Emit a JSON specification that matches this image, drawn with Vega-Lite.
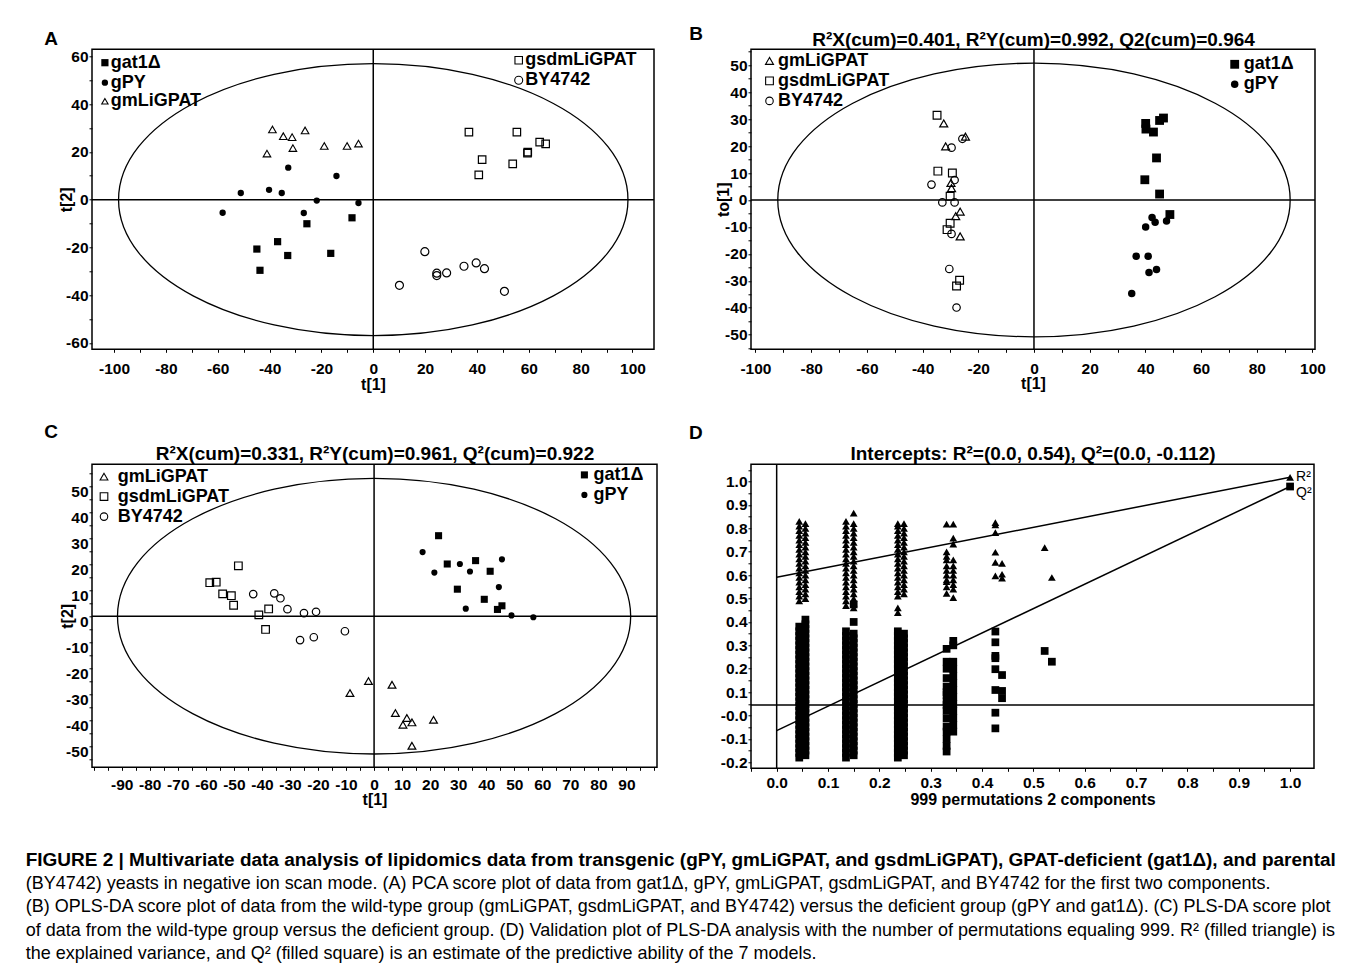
{
"$schema":"https://vega.github.io/schema/vega-lite/v6.json",
"background":"white",
"padding":{"left":25,"top":24.3,"right":10,"bottom":8},
"columns":2,
"spacing":{"row":115,"column":94},
"bounds":"flush",
"align":"none",
"title":{"text":["FIGURE 2 | Multivariate data analysis of lipidomics data from transgenic (gPY, gmLiGPAT, and gsdmLiGPAT), GPAT-deficient (gat1Δ), and parental"],
"subtitle":["(BY4742) yeasts in negative ion scan mode. (A) PCA score plot of data from gat1Δ, gPY, gmLiGPAT, gsdmLiGPAT, and BY4742 for the first two components.","(B) OPLS-DA score plot of data from the wild-type group (gmLiGPAT, gsdmLiGPAT, and BY4742) versus the deficient group (gPY and gat1Δ). (C) PLS-DA score plot","of data from the wild-type group versus the deficient group. (D) Validation plot of PLS-DA analysis with the number of permutations equaling 999. R² (filled triangle) is","the explained variance, and Q² (filled square) is an estimate of the predictive ability of the 7 models."],
"orient":"bottom","anchor":"start","frame":"group","dx":-66.3,"offset":42.4,"font":"Liberation Sans","fontSize":19,"fontWeight":"bold","color":"black","lineHeight":23.5,"subtitleFont":"Liberation Sans","subtitleFontSize":18,"subtitleFontWeight":"normal","subtitleColor":"black","subtitleLineHeight":23.5,"subtitlePadding":5},
"datasets":{
"origin":[{"x":0,"y":0}],
"Dref":[{"x":0,"y":0.0452}],
"A":[
{"g":"gat1Δ","x":-25.6,"y":-10.1},{"g":"gat1Δ","x":-8.2,"y":-7.6},{"g":"gat1Δ","x":-36.9,"y":-17.6},{"g":"gat1Δ","x":-44.9,"y":-20.7},{"g":"gat1Δ","x":-16.4,"y":-22.5},{"g":"gat1Δ","x":-33.0,"y":-23.4},{"g":"gat1Δ","x":-43.7,"y":-29.6},
{"g":"gPY","x":-32.8,"y":13.4},{"g":"gPY","x":-14.2,"y":9.9},{"g":"gPY","x":-51.1,"y":2.8},{"g":"gPY","x":-40.2,"y":4.1},{"g":"gPY","x":-35.3,"y":2.8},{"g":"gPY","x":-21.8,"y":-0.4},{"g":"gPY","x":-5.7,"y":-1.4},{"g":"gPY","x":-58.1,"y":-5.5},{"g":"gPY","x":-26.8,"y":-5.6},
{"g":"gmLiGPAT","x":-38.9,"y":29.4},{"g":"gmLiGPAT","x":-34.7,"y":26.6},{"g":"gmLiGPAT","x":-31.3,"y":26.2},{"g":"gmLiGPAT","x":-26.3,"y":29.0},{"g":"gmLiGPAT","x":-41.0,"y":19.3},{"g":"gmLiGPAT","x":-31.0,"y":21.6},{"g":"gmLiGPAT","x":-18.9,"y":22.5},{"g":"gmLiGPAT","x":-10.1,"y":22.5},{"g":"gmLiGPAT","x":-5.7,"y":23.5},
{"g":"gsdmLiGPAT","x":36.9,"y":28.3},{"g":"gsdmLiGPAT","x":55.4,"y":28.3},{"g":"gsdmLiGPAT","x":64.2,"y":24.1},{"g":"gsdmLiGPAT","x":66.5,"y":23.4},{"g":"gsdmLiGPAT","x":59.5,"y":19.5},{"g":"gsdmLiGPAT","x":59.6,"y":19.9},{"g":"gsdmLiGPAT","x":42.0,"y":16.8},{"g":"gsdmLiGPAT","x":53.8,"y":15.0},{"g":"gsdmLiGPAT","x":40.7,"y":10.4},
{"g":"BY4742","x":19.9,"y":-21.8},{"g":"BY4742","x":24.5,"y":-30.8},{"g":"BY4742","x":24.5,"y":-31.8},{"g":"BY4742","x":28.3,"y":-30.7},{"g":"BY4742","x":35.0,"y":-27.9},{"g":"BY4742","x":39.7,"y":-26.5},{"g":"BY4742","x":42.9,"y":-28.9},{"g":"BY4742","x":10.1,"y":-35.9},{"g":"BY4742","x":50.6,"y":-38.4}],
"B":[
{"g":"gsdmLiGPAT","x":-34.8,"y":31.4},{"g":"gsdmLiGPAT","x":-34.5,"y":10.7},{"g":"gsdmLiGPAT","x":-29.3,"y":10.0},{"g":"gsdmLiGPAT","x":-30.1,"y":1.4},{"g":"gsdmLiGPAT","x":-30.1,"y":-8.6},{"g":"gsdmLiGPAT","x":-31.2,"y":-11.0},{"g":"gsdmLiGPAT","x":-26.7,"y":-29.8},{"g":"gsdmLiGPAT","x":-27.8,"y":-31.9},
{"g":"gmLiGPAT","x":-32.4,"y":28.4},{"g":"gmLiGPAT","x":-24.6,"y":23.5},{"g":"gmLiGPAT","x":-31.7,"y":19.9},{"g":"gmLiGPAT","x":-29.6,"y":4.4},{"g":"gmLiGPAT","x":-26.5,"y":-4.3},{"g":"gmLiGPAT","x":-28.1,"y":-6.0},{"g":"gmLiGPAT","x":-26.5,"y":-13.5},{"g":"gmLiGPAT","x":-29.8,"y":6.3},
{"g":"BY4742","x":-29.6,"y":19.4},{"g":"BY4742","x":-25.7,"y":22.7},{"g":"BY4742","x":-36.8,"y":5.7},{"g":"BY4742","x":-28.5,"y":7.4},{"g":"BY4742","x":-32.9,"y":-0.9},{"g":"BY4742","x":-28.5,"y":-0.9},{"g":"BY4742","x":-29.6,"y":-12.6},{"g":"BY4742","x":-30.4,"y":-25.6},{"g":"BY4742","x":-27.8,"y":-39.9},
{"g":"gat1Δ","x":40.1,"y":28.4},{"g":"gat1Δ","x":40.2,"y":26.3},{"g":"gat1Δ","x":42.9,"y":25.2},{"g":"gat1Δ","x":45.1,"y":29.5},{"g":"gat1Δ","x":46.5,"y":30.4},{"g":"gat1Δ","x":44.0,"y":15.6},{"g":"gat1Δ","x":39.8,"y":7.5},{"g":"gat1Δ","x":45.1,"y":2.2},{"g":"gat1Δ","x":48.8,"y":-5.4},
{"g":"gPY","x":42.4,"y":-6.5},{"g":"gPY","x":43.5,"y":-8.3},{"g":"gPY","x":47.6,"y":-7.8},{"g":"gPY","x":40.1,"y":-10.0},{"g":"gPY","x":36.7,"y":-20.9},{"g":"gPY","x":41.0,"y":-20.9},{"g":"gPY","x":41.3,"y":-26.9},{"g":"gPY","x":44.0,"y":-25.8},{"g":"gPY","x":35.1,"y":-34.7}],
"C":[
{"g":"gsdmLiGPAT","x":-48.4,"y":19.4},{"g":"gsdmLiGPAT","x":-58.6,"y":12.9},{"g":"gsdmLiGPAT","x":-56.3,"y":13.1},{"g":"gsdmLiGPAT","x":-54.0,"y":8.6},{"g":"gsdmLiGPAT","x":-50.9,"y":7.9},{"g":"gsdmLiGPAT","x":-50.1,"y":4.2},{"g":"gsdmLiGPAT","x":-41.1,"y":0.5},{"g":"gsdmLiGPAT","x":-37.6,"y":2.8},{"g":"gsdmLiGPAT","x":-38.7,"y":-5.1},
{"g":"BY4742","x":-43.1,"y":8.5},{"g":"BY4742","x":-35.6,"y":8.8},{"g":"BY4742","x":-33.4,"y":6.9},{"g":"BY4742","x":-30.9,"y":2.7},{"g":"BY4742","x":-25.0,"y":1.2},{"g":"BY4742","x":-20.7,"y":1.7},{"g":"BY4742","x":-10.4,"y":-5.8},{"g":"BY4742","x":-26.4,"y":-9.2},{"g":"BY4742","x":-21.5,"y":-8.1},
{"g":"gmLiGPAT","x":-2.0,"y":-25.0},{"g":"gmLiGPAT","x":-8.6,"y":-29.6},{"g":"gmLiGPAT","x":6.4,"y":-26.4},{"g":"gmLiGPAT","x":7.6,"y":-37.3},{"g":"gmLiGPAT","x":11.7,"y":-39.2},{"g":"gmLiGPAT","x":13.5,"y":-40.9},{"g":"gmLiGPAT","x":10.3,"y":-41.8},{"g":"gmLiGPAT","x":21.2,"y":-39.9},{"g":"gmLiGPAT","x":13.5,"y":-49.9},
{"g":"gat1Δ","x":23.0,"y":31.0},{"g":"gat1Δ","x":26.1,"y":20.1},{"g":"gat1Δ","x":36.2,"y":21.4},{"g":"gat1Δ","x":41.4,"y":17.3},{"g":"gat1Δ","x":29.7,"y":10.4},{"g":"gat1Δ","x":39.3,"y":6.5},{"g":"gat1Δ","x":45.6,"y":4.0},{"g":"gat1Δ","x":44.0,"y":2.6},
{"g":"gPY","x":17.3,"y":24.7},{"g":"gPY","x":21.5,"y":16.8},{"g":"gPY","x":30.6,"y":20.1},{"g":"gPY","x":34.2,"y":17.2},{"g":"gPY","x":45.6,"y":21.9},{"g":"gPY","x":44.5,"y":11.2},{"g":"gPY","x":32.7,"y":2.9},{"g":"gPY","x":49.0,"y":0.3},{"g":"gPY","x":56.8,"y":-0.4}],
"D":[
{"s":"R²","x":0.044,"y":[0.49,0.51,0.53,0.55,0.57,0.59,0.61,0.63,0.65,0.67,0.69,0.71,0.73,0.75,0.77,0.79,0.81,0.83]},
{"s":"R²","x":0.056,"y":[0.5,0.52,0.54,0.56,0.58,0.6,0.62,0.64,0.66,0.68,0.7,0.72,0.74,0.76,0.78,0.8,0.82]},
{"s":"R²","x":0.135,"y":[0.47,0.49,0.51,0.53,0.55,0.57,0.59,0.61,0.63,0.65,0.67,0.69,0.71,0.73,0.75,0.77,0.79,0.81,0.83]},
{"s":"R²","x":0.15,"y":[0.46,0.48,0.5,0.52,0.54,0.56,0.58,0.6,0.62,0.64,0.66,0.68,0.7,0.72,0.74,0.76,0.78,0.8,0.82,0.865]},
{"s":"R²","x":0.236,"y":[0.44,0.46,0.51,0.53,0.55,0.57,0.59,0.61,0.63,0.65,0.67,0.69,0.71,0.73,0.75,0.77,0.79,0.81,0.82]},
{"s":"R²","x":0.248,"y":[0.52,0.54,0.56,0.58,0.6,0.62,0.64,0.66,0.68,0.7,0.72,0.74,0.76,0.78,0.8,0.82]},
{"s":"R²","x":0.331,"y":[0.818,0.7,0.68,0.665,0.64,0.62,0.6,0.58,0.572,0.55,0.522]},
{"s":"R²","x":0.344,"y":[0.818,0.758,0.733,0.665,0.64,0.62,0.6,0.58,0.56,0.54,0.504]},
{"s":"R²","x":0.426,"y":[0.825,0.815,0.782,0.698,0.655,0.597]},
{"s":"R²","x":0.439,"y":[0.65,0.604,0.587]},
{"s":"R²","x":0.522,"y":[0.718]},
{"s":"R²","x":0.536,"y":[0.59]},
{"s":"R²","x":1.0,"y":[1.0185]},
{"s":"Q²","x":0.044,"y":[-0.18,-0.16,-0.14,-0.12,-0.1,-0.08,-0.06,-0.04,-0.02,0,0.02,0.04,0.06,0.08,0.1,0.12,0.14,0.16,0.18,0.2,0.22,0.24,0.26,0.28,0.3,0.32,0.34,0.36,0.38]},
{"s":"Q²","x":0.056,"y":[-0.17,-0.15,-0.13,-0.11,-0.09,-0.07,-0.05,-0.03,-0.01,0.01,0.03,0.05,0.07,0.09,0.11,0.13,0.15,0.17,0.19,0.21,0.23,0.25,0.27,0.29,0.31,0.33,0.35,0.37,0.39,0.41]},
{"s":"Q²","x":0.135,"y":[-0.18,-0.16,-0.14,-0.12,-0.1,-0.08,-0.06,-0.04,-0.02,0,0.02,0.04,0.06,0.08,0.1,0.12,0.14,0.16,0.18,0.2,0.22,0.24,0.26,0.28,0.3,0.32,0.34,0.36]},
{"s":"Q²","x":0.15,"y":[-0.17,-0.15,-0.13,-0.11,-0.09,-0.07,-0.05,-0.03,-0.01,0.01,0.03,0.05,0.07,0.09,0.11,0.13,0.15,0.17,0.19,0.21,0.23,0.25,0.27,0.29,0.31,0.33,0.35,0.4,0.475]},
{"s":"Q²","x":0.236,"y":[-0.18,-0.16,-0.14,-0.12,-0.1,-0.08,-0.06,-0.04,-0.02,0,0.02,0.04,0.06,0.08,0.1,0.12,0.14,0.16,0.18,0.2,0.22,0.24,0.26,0.28,0.3,0.32,0.34,0.36]},
{"s":"Q²","x":0.248,"y":[-0.17,-0.15,-0.13,-0.11,-0.09,-0.07,-0.05,-0.03,-0.01,0.01,0.03,0.05,0.07,0.09,0.11,0.13,0.15,0.17,0.19,0.21,0.23,0.25,0.27,0.29,0.31,0.33,0.35]},
{"s":"Q²","x":0.331,"y":[0.285,0.23,0.2,0.16,0.124,0.1,0.088,0.06,0.045,0.02,-0.012,-0.047,-0.069,-0.1,-0.13,-0.154]},
{"s":"Q²","x":0.344,"y":[0.319,0.3,0.23,0.2,0.17,0.14,0.11,0.08,0.05,0.02,-0.01,-0.04,-0.069]},
{"s":"Q²","x":0.426,"y":[0.359,0.313,0.255,0.245,0.198,0.109,0.012,-0.055]},
{"s":"Q²","x":0.439,"y":[0.173,0.105,0.074]},
{"s":"Q²","x":0.522,"y":[0.276]},
{"s":"Q²","x":0.536,"y":[0.23]},
{"s":"Q²","x":1.0,"y":[0.979]}],
"Dl":[{"s":"R²","x":0,"y":0.591},{"s":"R²","x":1,"y":1.0185},{"s":"Q²","x":0,"y":-0.0646},{"s":"Q²","x":1,"y":0.979}],
"Dt":[{"t":"R²","x":1,"y":1.0185},{"t":"Q²","x":1,"y":0.979}]
},
"concat":[
{
"width":562,"height":300,
"title":{"text":"A","anchor":"start","frame":"group","dx":-47.8,"offset":-15.2,"baseline":"alphabetic","fontSize":19},
"layer":[
{"data":{"name":"origin"},"mark":{"type":"rule","color":"black","strokeWidth":1.5},"encoding":{"x":{"field":"x","type":"quantitative","scale":{"domain":[-108.5,108.3],"nice":false,"zero":false},"axis":null}}},
{"data":{"name":"origin"},"mark":{"type":"rule","color":"black","strokeWidth":1.5},"encoding":{"y":{"field":"y","type":"quantitative","scale":{"domain":[-62.7,63],"nice":false,"zero":false},"axis":null}}},
{"data":{"name":"origin"},"mark":{"type":"point","shape":"M-1,0A1,0.534,0,1,1,1,0A1,0.534,0,1,1,-1,0Z","size":259488,"filled":false,"stroke":"black","strokeWidth":1.3,"opacity":1},
 "encoding":{"x":{"field":"x","type":"quantitative","scale":{"domain":[-108.5,108.3],"nice":false,"zero":false},"axis":null},"y":{"field":"y","type":"quantitative","scale":{"domain":[-62.7,63],"nice":false,"zero":false},"axis":null}}},
{"data":{"name":"A"},"transform":[{"filter":{"field":"g","oneOf":["gat1Δ","gPY"]}}],
 "mark":{"type":"point","filled":true,"color":"black","opacity":1},
 "encoding":{
  "x":{"field":"x","type":"quantitative","scale":{"domain":[-108.5,108.3],"nice":false,"zero":false},"axis":{"title":"t[1]","values":[-100,-90,-80,-70,-60,-50,-40,-30,-20,-10,0,10,20,30,40,50,60,70,80,90,100],"labelExpr":"datum.value % 20 == 0 ? toString(datum.value) : ''","labelPadding":16,"titleY":35.3,"titleBaseline":"middle"}},
  "y":{"field":"y","type":"quantitative","scale":{"domain":[-62.7,63],"nice":false,"zero":false},"axis":{"title":"t[2]","values":[-60,-50,-40,-30,-20,-10,0,10,20,30,40,50,60],"labelExpr":"datum.value % 20 == 0 ? toString(datum.value) : ''","titleX":-25.8,"titleBaseline":"middle"}},
  "shape":{"field":"g","type":"nominal","scale":{"domain":["gat1Δ","gPY"],"range":["square","circle"]},"legend":{"title":null,"orient":"none","legendX":3.9,"legendY":4.4,"labelOffset":-3.1}},
  "size":{"field":"g","type":"nominal","scale":{"domain":["gat1Δ","gPY"],"range":[52,40]},"legend":{"title":null,"orient":"none","legendX":3.9,"legendY":4.4,"labelOffset":-3.1}}}},
{"data":{"name":"A"},"transform":[{"filter":{"field":"g","oneOf":["gmLiGPAT"]}}],
 "mark":{"type":"point","filled":false,"color":"black","strokeWidth":1.1,"opacity":1,"size":58},
 "encoding":{
  "x":{"field":"x","type":"quantitative","scale":{"domain":[-108.5,108.3],"nice":false,"zero":false},"axis":null},
  "y":{"field":"y","type":"quantitative","scale":{"domain":[-62.7,63],"nice":false,"zero":false},"axis":null},
  "shape":{"field":"g","type":"nominal","scale":{"domain":["gmLiGPAT"],"range":["triangle-up"]},"legend":{"title":null,"orient":"none","legendX":3.9,"legendY":43,"labelOffset":-3.1,"symbolSize":40}}}},
{"data":{"name":"A"},"transform":[{"filter":{"field":"g","oneOf":["gsdmLiGPAT","BY4742"]}}],
 "mark":{"type":"point","filled":false,"color":"black","strokeWidth":1.2,"opacity":1},
 "encoding":{
  "x":{"field":"x","type":"quantitative","scale":{"domain":[-108.5,108.3],"nice":false,"zero":false},"axis":null},
  "y":{"field":"y","type":"quantitative","scale":{"domain":[-62.7,63],"nice":false,"zero":false},"axis":null},
  "shape":{"field":"g","type":"nominal","scale":{"domain":["gsdmLiGPAT","BY4742"],"range":["square","circle"]},"legend":{"title":null,"orient":"none","legendX":417.7,"legendY":2,"labelOffset":-2.5}},
  "size":{"field":"g","type":"nominal","scale":{"domain":["gsdmLiGPAT","BY4742"],"range":[56,64]},"legend":{"title":null,"orient":"none","legendX":417.7,"legendY":2,"labelOffset":-2.5}}}}
],
"resolve":{"scale":{"shape":"independent","size":"independent"},"legend":{"shape":"independent","size":"independent"},"axis":{"x":"independent","y":"independent"}}
},
{
"width":564,"height":300,
"title":{"text":"B","anchor":"start","frame":"group","dx":-61.8,"offset":-28.5,"baseline":"alphabetic","fontSize":19},
"layer":[
{"data":{"name":"origin"},"mark":{"type":"rule","color":"black","strokeWidth":1.5},"encoding":{"x":{"field":"x","type":"quantitative","scale":{"domain":[-101.6,100.9],"nice":false,"zero":false},"axis":{"orient":"top","title":"R²X(cum)=0.401, R²Y(cum)=0.992, Q2(cum)=0.964","labels":false,"ticks":false,"domain":false,"titleFontSize":19,"titleY":-3.5,"titleBaseline":"alphabetic"}}}},
{"data":{"name":"origin"},"mark":{"type":"rule","color":"black","strokeWidth":1.5},"encoding":{"y":{"field":"y","type":"quantitative","scale":{"domain":[-55.4,55.9],"nice":false,"zero":false},"axis":null}}},
{"data":{"name":"origin"},"mark":{"type":"point","shape":"M-1,0A1,0.534,0,1,1,1,0A1,0.534,0,1,1,-1,0Z","size":262554,"filled":false,"stroke":"black","strokeWidth":1.3,"opacity":1},
 "encoding":{"x":{"field":"x","type":"quantitative","scale":{"domain":[-101.6,100.9],"nice":false,"zero":false},"axis":null},"y":{"field":"y","type":"quantitative","scale":{"domain":[-55.4,55.9],"nice":false,"zero":false},"axis":null}}},
{"data":{"name":"B"},"transform":[{"filter":{"field":"g","oneOf":["gmLiGPAT","gsdmLiGPAT","BY4742"]}}],
 "mark":{"type":"point","filled":false,"color":"black","strokeWidth":1.2,"opacity":1},
 "encoding":{
  "x":{"field":"x","type":"quantitative","scale":{"domain":[-101.6,100.9],"nice":false,"zero":false},"axis":{"title":"t[1]","values":[-100,-90,-80,-70,-60,-50,-40,-30,-20,-10,0,10,20,30,40,50,60,70,80,90,100],"labelExpr":"datum.value % 20 == 0 ? toString(datum.value) : ''","labelPadding":16.4,"titleY":34.4,"titleBaseline":"middle"}},
  "y":{"field":"y","type":"quantitative","scale":{"domain":[-55.4,55.9],"nice":false,"zero":false},"axis":{"title":"to[1]","values":[-55,-50,-45,-40,-35,-30,-25,-20,-15,-10,-5,0,5,10,15,20,25,30,35,40,45,50,55],"labelExpr":"datum.value % 10 == 0 ? toString(datum.value) : ''","titleX":-27.3,"titleBaseline":"middle"}},
  "shape":{"field":"g","type":"nominal","scale":{"domain":["gmLiGPAT","gsdmLiGPAT","BY4742"],"range":["triangle-up","square","circle"]},"legend":{"title":null,"orient":"none","legendX":9.5,"legendY":2.6,"labelOffset":-0.6}},
  "size":{"field":"g","type":"nominal","scale":{"domain":["gmLiGPAT","gsdmLiGPAT","BY4742"],"range":[64,56,64]},"legend":{"title":null,"orient":"none","legendX":9.5,"legendY":2.6,"labelOffset":-0.6}}}},
{"data":{"name":"B"},"transform":[{"filter":{"field":"g","oneOf":["gat1Δ","gPY"]}}],
 "mark":{"type":"point","filled":true,"color":"black","opacity":1},
 "encoding":{
  "x":{"field":"x","type":"quantitative","scale":{"domain":[-101.6,100.9],"nice":false,"zero":false},"axis":null},
  "y":{"field":"y","type":"quantitative","scale":{"domain":[-55.4,55.9],"nice":false,"zero":false},"axis":null},
  "shape":{"field":"g","type":"nominal","scale":{"domain":["gat1Δ","gPY"],"range":["square","circle"]},"legend":{"title":null,"orient":"none","legendX":474.7,"legendY":6,"labelOffset":0.1}},
  "size":{"field":"g","type":"nominal","scale":{"domain":["gat1Δ","gPY"],"range":[78,56]},"legend":{"title":null,"orient":"none","legendX":474.7,"legendY":6,"labelOffset":0.1}}}}
],
"resolve":{"scale":{"shape":"independent","size":"independent"},"legend":{"shape":"independent","size":"independent"},"axis":{"x":"independent","y":"independent"}}
},
{
"width":565,"height":303,
"title":{"text":"C","anchor":"start","frame":"group","dx":-47.8,"offset":-12.6,"baseline":"alphabetic","fontSize":19},
"layer":[
{"data":{"name":"origin"},"mark":{"type":"rule","color":"black","strokeWidth":1.5},"encoding":{"x":{"field":"x","type":"quantitative","scale":{"domain":[-100.6,100.9],"nice":false,"zero":false},"axis":{"orient":"top","title":"R²X(cum)=0.331, R²Y(cum)=0.961, Q²(cum)=0.922","labels":false,"ticks":false,"domain":false,"titleFontSize":19,"titleY":-4.5,"titleBaseline":"alphabetic"}}}},
{"data":{"name":"origin"},"mark":{"type":"rule","color":"black","strokeWidth":1.5},"encoding":{"y":{"field":"y","type":"quantitative","scale":{"domain":[-58.2,58.5],"nice":false,"zero":false},"axis":null}}},
{"data":{"name":"origin"},"mark":{"type":"point","shape":"M-1,0A1,0.537,0,1,1,1,0A1,0.537,0,1,1,-1,0Z","size":263374,"filled":false,"stroke":"black","strokeWidth":1.3,"opacity":1},
 "encoding":{"x":{"field":"x","type":"quantitative","scale":{"domain":[-100.6,100.9],"nice":false,"zero":false},"axis":null},"y":{"field":"y","type":"quantitative","scale":{"domain":[-58.2,58.5],"nice":false,"zero":false},"axis":null}}},
{"data":{"name":"C"},"transform":[{"filter":{"field":"g","oneOf":["gmLiGPAT","gsdmLiGPAT","BY4742"]}}],
 "mark":{"type":"point","filled":false,"color":"black","strokeWidth":1.2,"opacity":1},
 "encoding":{
  "x":{"field":"x","type":"quantitative","scale":{"domain":[-100.6,100.9],"nice":false,"zero":false},"axis":{"title":"t[1]","values":[-100,-95,-90,-85,-80,-75,-70,-65,-60,-55,-50,-45,-40,-35,-30,-25,-20,-15,-10,-5,0,5,10,15,20,25,30,35,40,45,50,55,60,65,70,75,80,85,90,95,100],"labelExpr":"datum.value % 10 == 0 && abs(datum.value) <= 90 ? toString(datum.value) : ''","labelPadding":14.3,"titleY":32,"titleBaseline":"middle"}},
  "y":{"field":"y","type":"quantitative","scale":{"domain":[-58.2,58.5],"nice":false,"zero":false},"axis":{"title":"t[2]","values":[-55,-50,-45,-40,-35,-30,-25,-20,-15,-10,-5,0,5,10,15,20,25,30,35,40,45,50,55],"labelExpr":"datum.value % 10 == 0 ? toString(datum.value) : ''","labelOffset":5,"titleX":-24.8,"titleBaseline":"middle"}},
  "shape":{"field":"g","type":"nominal","scale":{"domain":["gmLiGPAT","gsdmLiGPAT","BY4742"],"range":["triangle-up","square","circle"]},"legend":{"title":null,"orient":"none","legendX":3,"legendY":3.3,"labelOffset":4.7}},
  "size":{"field":"g","type":"nominal","scale":{"domain":["gmLiGPAT","gsdmLiGPAT","BY4742"],"range":[60,56,60]},"legend":{"title":null,"orient":"none","legendX":3,"legendY":3.3,"labelOffset":4.7}}}},
{"data":{"name":"C"},"transform":[{"filter":{"field":"g","oneOf":["gat1Δ","gPY"]}}],
 "mark":{"type":"point","filled":true,"color":"black","opacity":1},
 "encoding":{
  "x":{"field":"x","type":"quantitative","scale":{"domain":[-100.6,100.9],"nice":false,"zero":false},"axis":null},
  "y":{"field":"y","type":"quantitative","scale":{"domain":[-58.2,58.5],"nice":false,"zero":false},"axis":null},
  "shape":{"field":"g","type":"nominal","scale":{"domain":["gat1Δ","gPY"],"range":["square","circle"]},"legend":{"title":null,"orient":"none","legendX":483.4,"legendY":1.6,"labelOffset":0.1}},
  "size":{"field":"g","type":"nominal","scale":{"domain":["gat1Δ","gPY"],"range":[50,38]},"legend":{"title":null,"orient":"none","legendX":483.4,"legendY":1.6,"labelOffset":0.1}}}}
],
"resolve":{"scale":{"shape":"independent","size":"independent"},"legend":{"shape":"independent","size":"independent"},"axis":{"x":"independent","y":"independent"}}
},
{
"width":563,"height":304,
"title":{"text":"D","anchor":"start","frame":"group","dx":-62,"offset":-13.1,"baseline":"alphabetic","fontSize":19},
"layer":[
{"data":{"name":"Dref"},"mark":{"type":"rule","color":"black","strokeWidth":1.5},"encoding":{"x":{"field":"x","type":"quantitative","scale":{"domain":[-0.05,1.0466],"nice":false,"zero":false},"axis":{"orient":"top","title":"Intercepts: R²=(0.0, 0.54), Q²=(0.0, -0.112)","labels":false,"ticks":false,"domain":false,"titleFontSize":19,"titleY":-4.5,"titleBaseline":"alphabetic"}}}},
{"data":{"name":"Dref"},"mark":{"type":"rule","color":"black","strokeWidth":1.5},"encoding":{"y":{"field":"y","type":"quantitative","scale":{"domain":[-0.2257,1.074],"nice":false,"zero":false},"axis":null}}},
{"data":{"name":"Dl"},"mark":{"type":"line","color":"black","strokeWidth":1.5},"encoding":{
  "x":{"field":"x","type":"quantitative","scale":{"domain":[-0.05,1.0466],"nice":false,"zero":false},"axis":null},
  "y":{"field":"y","type":"quantitative","scale":{"domain":[-0.2257,1.074],"nice":false,"zero":false},"axis":null},
  "detail":{"field":"s","type":"nominal"}}},
{"data":{"name":"D"},"transform":[{"flatten":["y"]}],
 "mark":{"type":"point","filled":true,"color":"black","opacity":1},
 "encoding":{
  "x":{"field":"x","type":"quantitative","scale":{"domain":[-0.05,1.0466],"nice":false,"zero":false},"axis":{"title":"999 permutations 2 components","values":[-0.05,0,0.05,0.1,0.15,0.2,0.25,0.3,0.35,0.4,0.45,0.5,0.55,0.6,0.65,0.7,0.75,0.8,0.85,0.9,0.95,1.0],"labelExpr":"datum.value >= 0 && abs(datum.value*10 - round(datum.value*10)) < 0.001 ? format(datum.value, '.1f') : ''","labelPadding":11,"titleY":31.3,"titleBaseline":"middle"}},
  "y":{"field":"y","type":"quantitative","scale":{"domain":[-0.2257,1.074],"nice":false,"zero":false},"axis":{"title":null,"values":[-0.2,-0.15,-0.1,-0.05,0,0.05,0.1,0.15,0.2,0.25,0.3,0.35,0.4,0.45,0.5,0.55,0.6,0.65,0.7,0.75,0.8,0.85,0.9,0.95,1.0,1.05],"labelExpr":"abs(datum.value*10 - round(datum.value*10)) < 0.001 ? (datum.value == 0 ? '-0.0' : (datum.value < 0 ? '-' : '') + format(abs(datum.value), '.1f')) : ''"}},
  "shape":{"field":"s","type":"nominal","scale":{"domain":["R²","Q²"],"range":["triangle-up","square"]},"legend":null},
  "size":{"value":60}}},
{"data":{"name":"Dt"},"transform":[{"filter":{"field":"t","equal":"R²"}}],"mark":{"type":"text","align":"left","baseline":"middle","dx":6,"dy":0,"fontSize":14,"font":"Liberation Sans","color":"black"},
 "encoding":{
  "x":{"field":"x","type":"quantitative","scale":{"domain":[-0.05,1.0466],"nice":false,"zero":false},"axis":null},
  "y":{"field":"y","type":"quantitative","scale":{"domain":[-0.2257,1.074],"nice":false,"zero":false},"axis":null},
  "text":{"field":"t","type":"nominal"}}},
{"data":{"name":"Dt"},"transform":[{"filter":{"field":"t","equal":"Q²"}}],"mark":{"type":"text","align":"left","baseline":"middle","dx":6,"dy":6,"fontSize":14,"font":"Liberation Sans","color":"black"},
 "encoding":{
  "x":{"field":"x","type":"quantitative","scale":{"domain":[-0.05,1.0466],"nice":false,"zero":false},"axis":null},
  "y":{"field":"y","type":"quantitative","scale":{"domain":[-0.2257,1.074],"nice":false,"zero":false},"axis":null},
  "text":{"field":"t","type":"nominal"}}}
],
"resolve":{"axis":{"x":"independent","y":"independent"}}
}
],
"config":{
"font":"Liberation Sans",
"view":{"stroke":"black","strokeWidth":1.5},
"axis":{"grid":false,"domain":false,"tickColor":"black","tickSize":3,"tickWidth":1,"labelFont":"Liberation Sans","labelFontSize":15.5,"labelFontWeight":"bold","labelColor":"black","titleFont":"Liberation Sans","titleFontSize":16,"titleFontWeight":"bold","titleColor":"black","labelOverlap":false,"labelFlush":false,"labelBound":false},
"axisY":{"labelPadding":1,"labelBaseline":"middle"},
"axisX":{"labelBaseline":"middle"},
"legend":{"padding":0,"labelFont":"Liberation Sans","labelFontSize":18,"labelFontWeight":"bold","labelColor":"black","symbolStrokeColor":"black","symbolStrokeWidth":1.1,"symbolSize":36,"labelLimit":400},
"title":{"font":"Liberation Sans","fontWeight":"bold","color":"black"}
}
}
